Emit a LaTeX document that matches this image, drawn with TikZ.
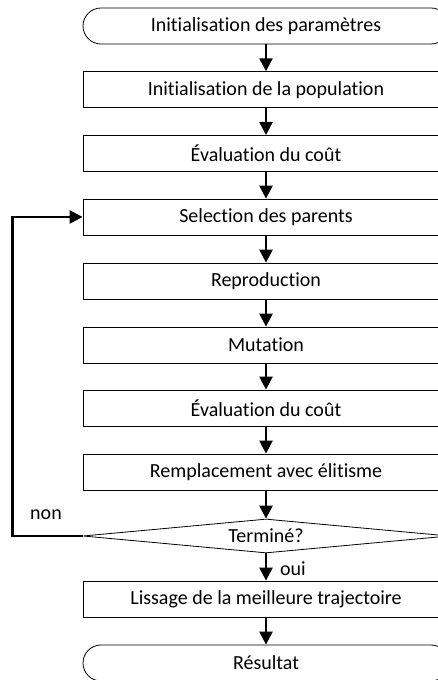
\documentclass[tikz,border=0pt]{standalone}
\usepackage{fontspec}
\setmainfont{Carlito}[Ligatures=NoCommon]
\usetikzlibrary{arrows.meta,shapes.geometric}

\tikzset{
  stepbox/.style={draw,rectangle,line width=0.8pt,minimum width=366pt,minimum height=36pt,inner sep=0pt,font=\fontsize{20}{23}\selectfont},
  endbox/.style={stepbox,rounded corners=18pt},
  testbox/.style={draw,diamond,aspect=10,line width=0.8pt,minimum width=366pt,minimum height=34pt,inner sep=0pt,font=\fontsize{20}{23}\selectfont},
  flow/.style={line width=2.4pt,-{Triangle[length=13pt,width=13pt]}},
  lbl/.style={font=\fontsize{20}{23}\selectfont}
}

\begin{document}
\begin{tikzpicture}[x=1pt,y=1pt]
      \clip (0,0) rectangle (438,680);
      \draw
        (266,654) node[endbox] (param){Initialisation des paramètres}
        (266,590.3) node[stepbox] (pop){Initialisation de la population}
        (266,526.6) node[stepbox] (eval1){Évaluation du coût}
        (266,463) node[stepbox] (sel){Selection des parents}
        (266,399) node[stepbox] (repro){Reproduction}
        (266,335) node[stepbox] (mut){Mutation}
        (266,272) node[stepbox] (eval2){Évaluation du coût}
        (266,208) node[stepbox] (remp){Remplacement avec élitisme}
        (266,144) node[testbox] (fin){Terminé?}
        (266,81) node[stepbox] (lis){Lissage de la meilleure trajectoire}
        (266,17) node[endbox] (res){Résultat};
      \node[lbl] (non) at (46,165) {non};
      \node[lbl] (oui) at (293,111) {oui};
      \begin{scope}[flow]
        \draw (param) to (pop);
        \draw (pop) to (eval1);
        \draw (eval1) to (sel);
        \draw (sel) to (repro);
        \draw (repro) to (mut);
        \draw (mut) to (eval2);
        \draw (eval2) to (remp);
        \draw (remp) to (fin);
        \draw (fin) to (lis);
        \draw (lis) to (res);
        \draw (fin.west) -- ++(-70,0) |- (sel.west);
      \end{scope}
    \end{tikzpicture}
\end{document}
